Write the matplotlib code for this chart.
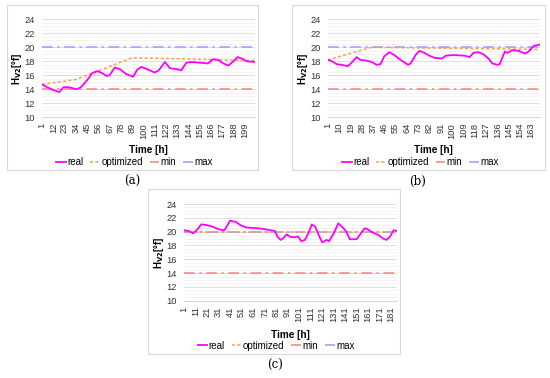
#Recreating the three hardness panels (a), (b), (c)

import numpy as np
import matplotlib.pyplot as plt
from matplotlib.patches import Rectangle

plt.rcParams['font.family'] = ['Liberation Sans', 'DejaVu Sans']

#Panel (a) data
a_real_h = [1, 6, 12, 18, 22, 27, 35, 39, 45, 50, 55, 60, 64, 67, 72, 77, 83, 90, 94, 98,
            105, 111, 115, 121, 126, 132, 137, 142, 147, 155, 163, 168, 173, 178, 183, 188,
            192, 196, 201, 209]
a_real = [14.7, 14.3, 13.9, 13.6, 14.3, 14.3, 14.0, 14.3, 15.3, 16.3, 16.6, 16.3, 15.9, 16.0,
          17.1, 16.9, 16.2, 15.8, 16.8, 17.2, 16.8, 16.4, 16.7, 17.9, 17.0, 16.9, 16.7, 17.8,
          17.9, 17.8, 17.7, 18.3, 18.2, 17.7, 17.4, 18.0, 18.6, 18.4, 18.0, 17.9]
a_opt_h = [1, 34, 89, 150, 209]
a_opt = [14.7, 15.4, 18.5, 18.3, 18.1]
a_n = 209

#Panel (b) data
b_real_h = [1, 4, 8, 12, 17, 20, 24, 27, 32, 36, 40, 43, 46, 50, 54, 59, 65, 67, 71, 74,
            78, 82, 86, 92, 95, 101, 110, 114, 117, 121, 125, 129, 132, 136, 138, 142, 144,
            148, 153, 158, 161, 165, 170]
b_real = [18.2, 18.05, 17.6, 17.5, 17.3, 17.8, 18.6, 18.2, 18.1, 17.9, 17.5, 17.6, 18.7, 19.3,
          18.9, 18.2, 17.5, 17.7, 18.9, 19.5, 19.2, 18.8, 18.5, 18.4, 18.8, 18.9, 18.8, 18.6,
          19.2, 19.3, 19.0, 18.4, 17.7, 17.5, 17.6, 19.4, 19.2, 19.6, 19.5, 19.1, 19.4, 20.2,
          20.4]
b_opt_h = [1, 36, 170]
b_opt = [18.2, 20.0, 19.7]
b_n = 170

#Panel (c) data
c_real_h = [1, 5, 9, 12, 16, 21, 26, 32, 36, 38, 41, 46, 50, 55, 64, 70, 76, 80, 82, 85,
            87, 90, 94, 97, 100, 103, 106, 109, 112, 115, 118, 121, 125, 127, 131, 135, 139,
            142, 145, 151, 154, 158, 161, 164, 170, 174, 177, 180, 183, 186]
c_real = [20.2, 20.1, 19.75, 20.2, 21.05, 20.95, 20.7, 20.3, 20.2, 20.7, 21.6, 21.4, 20.95,
          20.6, 20.5, 20.4, 20.2, 20.1, 19.3, 18.8, 19.0, 19.6, 19.2, 19.2, 19.3, 18.6, 18.8,
          19.75, 21.05, 20.7, 19.5, 18.45, 18.8, 18.6, 19.75, 21.2, 20.6, 20.0, 18.9, 18.9,
          19.6, 20.5, 20.3, 19.95, 19.5, 19.0, 18.8, 19.3, 20.2, 20.1]
c_opt_h = [1, 186]
c_opt = [20.0, 20.0]
c_n = 186

h_min = 14
h_max = 20
y_ticks = [10, 12, 14, 16, 18, 20, 22, 24]

W, H = 550, 378
fig = plt.figure(figsize=(W / 100, H / 100), dpi=100)


def fx(px):
    return px / W


def fy(py):
    return 1 - py / H


def panel(left, right, top, bottom, hours, real, opt_h, opt, n, step, frame, xlab_y, leg_y):
    #frame of the chart area
    x0, y0, x1, y1 = frame
    fig.patches.append(Rectangle((fx(x0), fy(y1)), fx(x1 - x0), (y1 - y0) / H,
                                 transform=fig.transFigure, fill=False,
                                 edgecolor='#d9d9d9', linewidth=0.8))
    ax = fig.add_axes([fx(left), fy(bottom), fx(right - left), (bottom - top) / H])
    ax.plot(hours, real, color='#ff00ff', lw=1.3, label='real', zorder=5)
    ax.plot(opt_h, opt, color='#f5a04e', lw=1.1, dashes=(2, 1.5), label='optimized', zorder=4)
    ax.plot([1, n], [h_min, h_min], color='#ff7f7f', lw=1.1, dashes=(7, 3, 1.5, 3), label='min')
    ax.plot([1, n], [h_max, h_max], color='#9a9aff', lw=1.1, dashes=(7, 3, 1.5, 3), label='max')
    ax.set_xlim(1, n)
    ax.set_ylim(10, 24)
    ax.set_yticks(y_ticks)
    ax.set_yticks(np.arange(10, 24.01, 0.5), minor=True)
    xt = np.arange(1, n + 1, step)
    ax.set_xticks(xt)
    ax.set_xticklabels([str(v) for v in xt], rotation=90)
    ax.tick_params(length=0, labelsize=6.7, colors='#333333')
    ax.tick_params(axis='y', pad=5)
    ax.tick_params(axis='x', pad=4)
    ax.tick_params(which='minor', length=0)
    ax.grid(which='major', axis='y', color='#d9d9d9', lw=0.6)
    ax.grid(which='minor', axis='y', color='#efefef', lw=0.5)
    ax.set_axisbelow(True)
    for s in ['top', 'right', 'left']:
        ax.spines[s].set_visible(False)
    ax.spines['bottom'].set_color('#d9d9d9')
    ax.set_ylabel(r'H$_{\mathbf{V2}}$[°f]', fontsize=7, fontweight='bold', labelpad=0.5)
    h = bottom - top
    w = right - left
    ax.text(0.5, (bottom - xlab_y) / h, 'Time [h]', transform=ax.transAxes,
            ha='center', va='center', fontsize=7.2, fontweight='bold')
    #legend centred on the chart area, as Excel does
    leg_x = ((x0 + x1) / 2 + 2 - left) / w
    ax.legend(loc='center', bbox_to_anchor=(leg_x, (bottom - leg_y) / h), ncol=4,
              frameon=False, fontsize=7, handlelength=1.0, handletextpad=0.15,
              columnspacing=0.7, borderaxespad=0)
    return ax


panel(42, 255, 19.3, 117.3, a_real_h, a_real, a_opt_h, a_opt, a_n, 11,
      (7, 5, 258, 170), 150, 162)
panel(327.7, 540, 19.3, 117.3, b_real_h, b_real, b_opt_h, b_opt, b_n, 9,
      (292, 5, 545, 170), 150, 162)
panel(184, 397, 204, 300.7, c_real_h, c_real, c_opt_h, c_opt, c_n, 10,
      (148, 189, 400, 354), 335, 345.7)

cap = dict(ha='center', va='center', fontsize=8.5, family='DejaVu Serif')
fig.text(fx(132), fy(181), '(a)', **cap)
fig.text(fx(418), fy(181), '(b)', **cap)
fig.text(fx(275), fy(365), '(c)', **cap)

plt.savefig('out.png', dpi=100)
plt.close()
